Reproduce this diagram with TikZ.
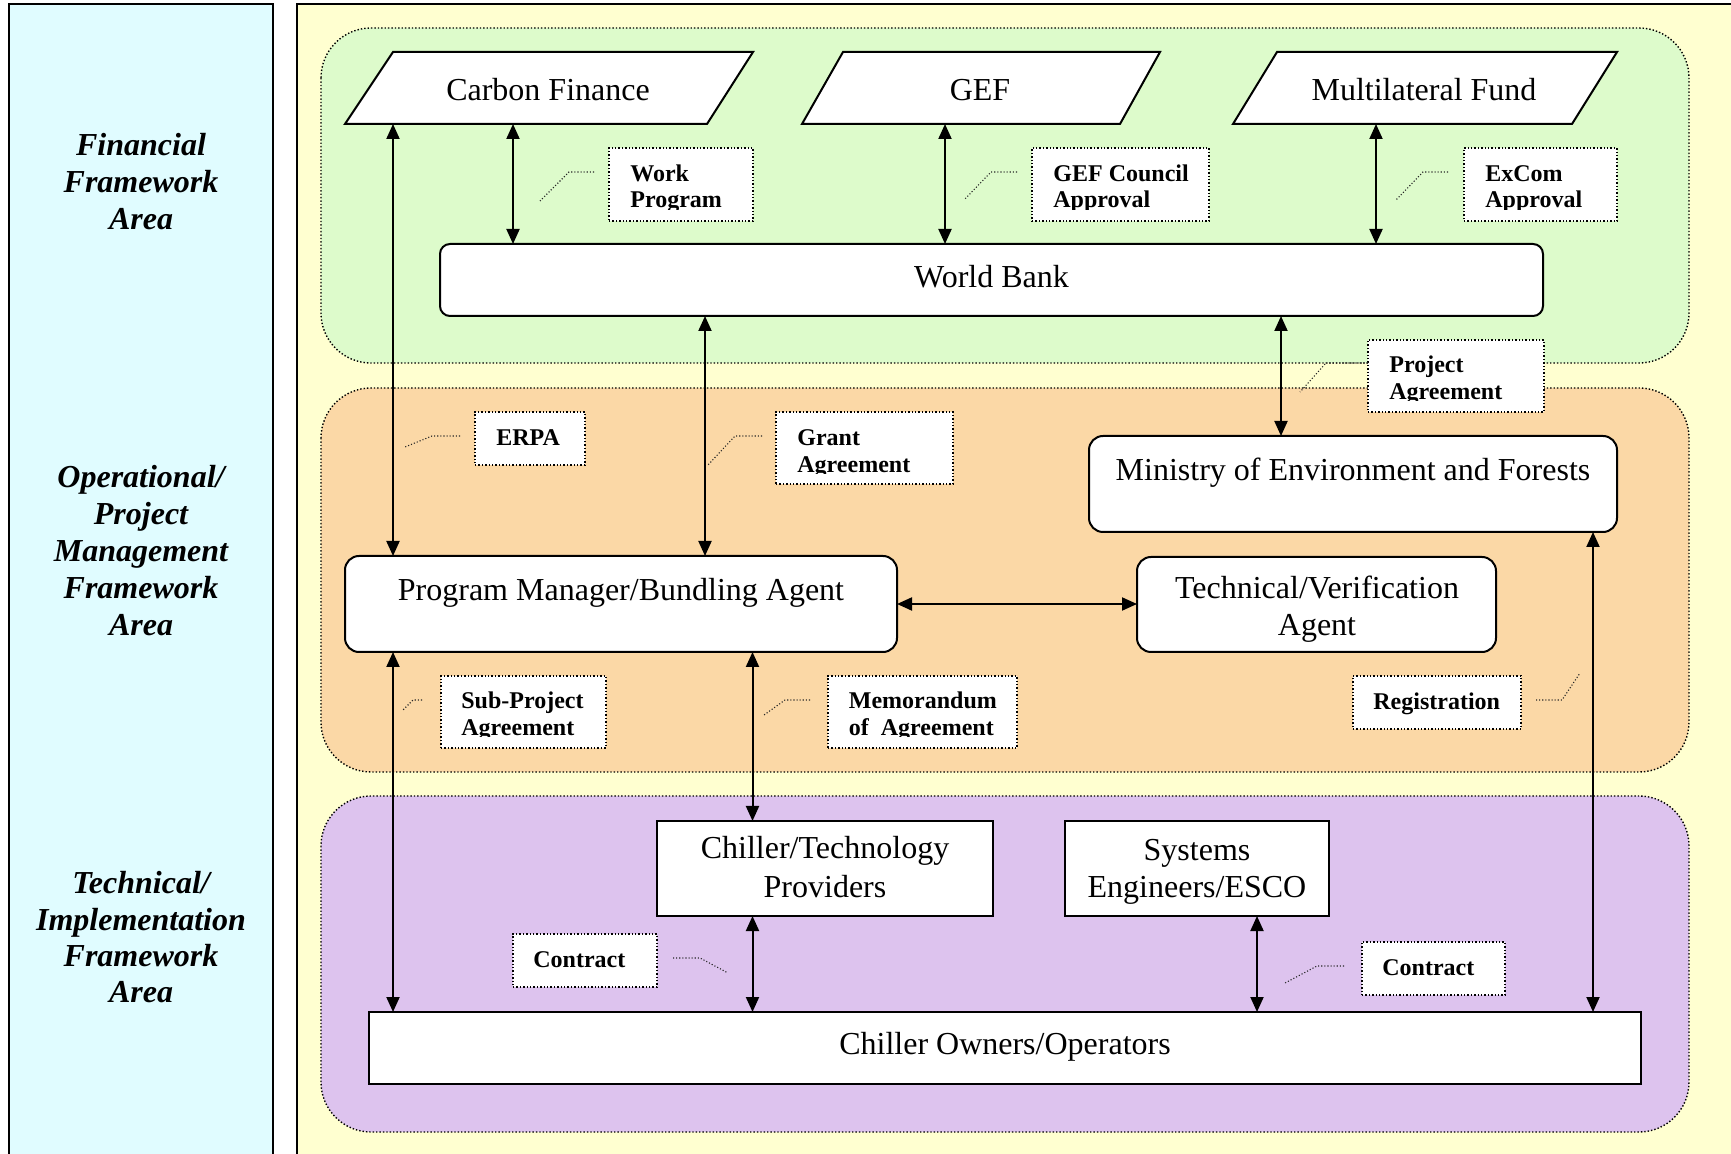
\documentclass[tikz,border=0pt]{standalone}
\usepackage{fontspec}
\setmainfont{Liberation Serif}
\usetikzlibrary{arrows.meta,calc}
\definecolor{bgyellow}{HTML}{FFFFD0}
\definecolor{bgcyan}{HTML}{E0FCFF}
\definecolor{rgreen}{HTML}{DDFBCB}
\definecolor{rorange}{HTML}{FBD8A6}
\definecolor{rpurple}{HTML}{DDC3EE}
\begin{document}
\begin{tikzpicture}[x=0.5pt,y=-0.5pt,
  panel/.style={draw=black,line width=0.85pt},
  region/.style={draw=black,densely dotted,line width=0.7pt,rounded corners=25pt},
  mbox/.style={draw=black,fill=white,line width=1pt,inner sep=0pt,outer sep=0pt},
  rbox/.style={mbox,rounded corners=7pt},
  frame/.style={inner sep=0pt,outer sep=0pt},
  mtxt/.style={font=\fontsize{16}{19}\selectfont,inner sep=0pt,anchor=base},
  lbox/.style={draw=black,densely dotted,line width=0.7pt,fill=white,inner sep=0pt,outer sep=0pt},
  ltxt/.style={font=\fontsize{12}{14}\selectfont\bfseries,inner sep=0pt,anchor=base west},
  lead/.style={draw=black!85,densely dotted,line width=0.55pt},
  conn/.style={line width=1pt,{Triangle[length=7.5pt,width=6.5pt]}-{Triangle[length=7.5pt,width=6.5pt]}},
  area/.style={font=\fontsize{16}{18.5}\selectfont\bfseries\itshape,inner sep=0pt,anchor=base},
]
\useasboundingbox (0,0) rectangle (1731,1154);
\clip (0,0) rectangle (1731,1154);

% panels
\fill[white] (0,0) rectangle (1731,1154);
\filldraw[panel,fill=bgcyan] (9,1170) -- (9,4) -- (273,4) -- (273,1170);
\filldraw[panel,fill=bgyellow] (297,1170) -- (297,4) -- (1750,4) -- (1750,1170);

% regions
\filldraw[region,fill=rgreen] (321,28) rectangle (1689,363);
\filldraw[region,fill=rorange] (321,388) rectangle (1689,772);
\filldraw[region,fill=rpurple] (321,796) rectangle (1689,1132);

% area titles
\node[area] (f1) at (141,156) {Financial};
\node[area] (f2) at (141,193) {Framework};
\node[area] (f3) at (141,230) {Area};
\node[area] (o1) at (141,488) {Operational/};
\node[area] (o2) at (141,525) {Project};
\node[area] (o3) at (141,562) {Management};
\node[area] (o4) at (141,599) {Framework};
\node[area] (o5) at (141,636) {Area};
\node[area] (t1) at (141,893) {Technical/};
\node[area] (t2) at (141,930) {Implementation};
\node[area] (t3) at (141,966) {Framework};
\node[area] (t4) at (141,1002) {Area};

% funding sources (parallelograms)
\filldraw[draw=black,fill=white,line width=1pt,line join=miter] (345,124) -- (393,52) -- (753,52) -- (707,124) -- cycle;
\filldraw[draw=black,fill=white,line width=1pt,line join=miter] (802,124) -- (843,52) -- (1160,52) -- (1120,124) -- cycle;
\filldraw[draw=black,fill=white,line width=1pt,line join=miter] (1233,124) -- (1277,52) -- (1617,52) -- (1572,124) -- cycle;
\node[frame,minimum width=180pt,minimum height=36pt] (cf) at (549,88) {};
\node[frame,minimum width=160pt,minimum height=36pt] (gef) at (981,88) {};
\node[frame,minimum width=170pt,minimum height=36pt] (mlf) at (1425,88) {};
\node[mtxt] (cft) at (548,101) {Carbon Finance};
\node[mtxt] (geft) at (980,101) {GEF};
\node[mtxt] (mlft) at (1424,101) {Multilateral Fund};

% main boxes
\node[rbox,rounded corners=5pt,minimum width=551.5pt,minimum height=36pt] (wb) at (991.5,280) {};
\node[mtxt] (wbt) at (991.5,288) {World Bank};

\node[rbox,minimum width=276pt,minimum height=48pt] (pm) at (621,604) {};
\node[mtxt] (pmt) at (621,601) {Program Manager/Bundling Agent};

\node[rbox,minimum width=264pt,minimum height=48pt] (moef) at (1353,484) {};
\node[mtxt] (moeft) at (1353,481) {Ministry of Environment and Forests};

\node[rbox,minimum width=179.5pt,minimum height=47.5pt] (tva) at (1316.5,604.5) {};
\node[mtxt] (tvat1) at (1317,599) {Technical/Verification};
\node[mtxt] (tvat2) at (1317,636) {Agent};

\node[mbox,minimum width=168pt,minimum height=47.5pt] (ctp) at (825,868.5) {};
\node[mtxt] (ctpt1) at (825,859) {Chiller/Technology};
\node[mtxt] (ctpt2) at (825,898) {Providers};

\node[mbox,minimum width=132pt,minimum height=47.5pt] (se) at (1197,868.5) {};
\node[mtxt] (set1) at (1197,861) {Systems};
\node[mtxt] (set2) at (1197,898) {Engineers/ESCO};

\node[mbox,minimum width=636pt,minimum height=36pt] (co) at (1005,1048) {};
\node[mtxt] (cot) at (1005,1054) {Chiller Owners/Operators};

% connector columns
\coordinate (c1) at (393,0);
\coordinate (c2) at (513,0);
\coordinate (c3) at (945,0);
\coordinate (c4) at (1376,0);
\coordinate (c5) at (705,0);
\coordinate (c6) at (1281,0);
\coordinate (c7) at (752.5,0);
\coordinate (c8) at (1257,0);
\coordinate (c9) at (1593,0);

% connectors
\draw[conn] (cf.south -| c1) -- (pm.north -| c1);
\draw[conn] (cf.south -| c2) -- (wb.north -| c2);
\draw[conn] (gef.south -| c3) -- (wb.north -| c3);
\draw[conn] (mlf.south -| c4) -- (wb.north -| c4);
\draw[conn] (wb.south -| c5) -- (pm.north -| c5);
\draw[conn] (wb.south -| c6) -- (moef.north -| c6);
\draw[conn] (pm.east) -- (pm.east -| tva.west);
\draw[conn] (pm.south -| c1) -- (co.north -| c1);
\draw[conn] (pm.south -| c7) -- (ctp.north -| c7);
\draw[conn] (ctp.south -| c7) -- (co.north -| c7);
\draw[conn] (se.south -| c8) -- (co.north -| c8);
\draw[conn] (moef.south -| c9) -- (co.north -| c9);

% labels
\node[lbox,minimum width=72pt,minimum height=36.5pt] (wp) at (681,184.5) {};
\node[ltxt] (wpt1) at (630,182) {Work};
\node[ltxt] (wpt2) at (630,208) {Program};
\fill[white] ($(wp.south west)+(1.5,-1.5)$) rectangle ($(wp.south east)+(-1.5,-11)$);

\node[lbox,minimum width=88.5pt,minimum height=36.5pt] (gca) at (1120.5,184.5) {};
\node[ltxt] (gcat1) at (1053,182) {GEF Council};
\node[ltxt] (gcat2) at (1053,208) {Approval};
\fill[white] ($(gca.south west)+(1.5,-1.5)$) rectangle ($(gca.south east)+(-1.5,-11)$);

\node[lbox,minimum width=76.5pt,minimum height=36.5pt] (exa) at (1540.5,184.5) {};
\node[ltxt] (exat1) at (1485,182) {ExCom};
\node[ltxt] (exat2) at (1485,208) {Approval};
\fill[white] ($(exa.south west)+(1.5,-1.5)$) rectangle ($(exa.south east)+(-1.5,-11)$);

\node[lbox,minimum width=88pt,minimum height=36pt] (pa) at (1456,376) {};
\node[ltxt] (pat1) at (1389,373) {Project};
\node[ltxt] (pat2) at (1389,400) {Agreement};
\fill[white] ($(pa.south west)+(1.5,-1.5)$) rectangle ($(pa.south east)+(-1.5,-11)$);

\node[lbox,minimum width=55pt,minimum height=26.5pt] (erpa) at (530,438.5) {};
\node[ltxt] (erpat) at (496,446) {ERPA};

\node[lbox,minimum width=88.5pt,minimum height=36pt] (ga) at (864.5,448) {};
\node[ltxt] (gat1) at (797,446) {Grant};
\node[ltxt] (gat2) at (797,473) {Agreement};
\fill[white] ($(ga.south west)+(1.5,-1.5)$) rectangle ($(ga.south east)+(-1.5,-10)$);

\node[lbox,minimum width=82.5pt,minimum height=36pt] (spa) at (523.5,712) {};
\node[ltxt] (spat1) at (461,709) {Sub-Project};
\node[ltxt] (spat2) at (461,736) {Agreement};
\fill[white] ($(spa.south west)+(1.5,-1.5)$) rectangle ($(spa.south east)+(-1.5,-11)$);

\node[lbox,minimum width=94.5pt,minimum height=36pt] (moa) at (922.5,712) {};
\node[ltxt] (moat1) at (848.5,709) {Memorandum};
\node[ltxt] (moat2) at (848.5,736) {of~~Agreement};
\fill[white] ($(moa.south west)+(1.5,-1.5)$) rectangle ($(moa.south east)+(-1.5,-11)$);

\node[lbox,minimum width=84pt,minimum height=26.5pt] (reg) at (1437,702.5) {};
\node[ltxt] (regt) at (1373,710) {Registration};

\node[lbox,minimum width=72pt,minimum height=26.5pt] (ctl) at (585,960.5) {};
\node[ltxt] (ctlt) at (533,967) {Contract};

\node[lbox,minimum width=71.5pt,minimum height=26.5pt] (ctr) at (1433.5,968.5) {};
\node[ltxt] (ctrt) at (1382,975) {Contract};

% leader lines
\draw[lead] (594,172) -- (569,172) -- (540,201);
\draw[lead] (1017,172) -- (991,172) -- (964,200);
\draw[lead] (1448,172) -- (1423,172) -- (1396,200);
\draw[lead] (pa.west |- 0,363) -- (1326,363) -- (1300,392);
\draw[lead] (460,436) -- (432,436) -- (405,447);
\draw[lead] (762,436) -- (735,436) -- (708,465);
\draw[lead] (422,700) -- (413,700) -- (402,711);
\draw[lead] (810,700) -- (785,700) -- (764,715);
\draw[lead] (1536,700) -- (1562,700) -- (1580,673);
\draw[lead] (673,958) -- (700,958) -- (728,973);
\draw[lead] (1344,966) -- (1317,966) -- (1285,983);
\end{tikzpicture}
\end{document}
